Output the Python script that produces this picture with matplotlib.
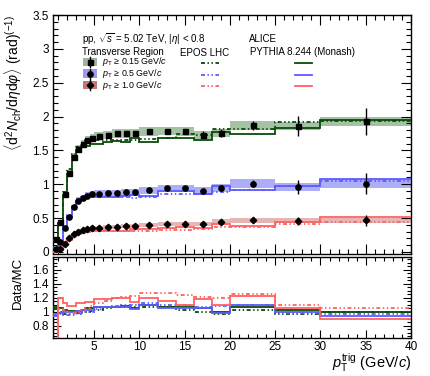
import numpy as np
import matplotlib
matplotlib.use("Agg")
import matplotlib.pyplot as plt
from matplotlib.patches import Rectangle
from matplotlib.lines import Line2D
from matplotlib.ticker import MultipleLocator

plt.rcParams['font.family'] = ['Liberation Sans', 'DejaVu Sans']
plt.rcParams['mathtext.fontset'] = 'custom'
plt.rcParams['mathtext.rm'] = 'Liberation Sans'
plt.rcParams['mathtext.it'] = 'Liberation Sans:italic'
plt.rcParams['mathtext.bf'] = 'Liberation Sans:bold'

# ---------------- data ----------------
edges = [0.5, 1, 1.5, 2, 2.5, 3, 3.5, 4, 4.5, 5, 6, 7, 8, 9, 10, 12, 14, 16, 18, 20, 25, 30, 40]
red_edges = edges[1:]

green_data = [0.19, 0.45, 0.86, 1.17, 1.41, 1.52, 1.60, 1.65, 1.68, 1.71, 1.73, 1.75, 1.75, 1.76,
              1.78, 1.79, 1.78, 1.73, 1.76, 1.87, 1.86, 1.93]
green_stat = [0.01, 0.01, 0.015, 0.015, 0.015, 0.015, 0.015, 0.015, 0.015, 0.015, 0.02, 0.02, 0.02,
              0.025, 0.025, 0.03, 0.04, 0.05, 0.06, 0.07, 0.15, 0.2]
green_pythia = [0.178, 0.429, 0.835, 1.158, 1.396, 1.505, 1.553, 1.571, 1.600, 1.598, 1.617, 1.636,
                1.620, 1.676, 1.618, 1.689, 1.679, 1.648, 1.778, 1.748, 1.824, 1.949]
green_epos = [0.184, 0.450, 0.887, 1.219, 1.454, 1.551, 1.616, 1.650, 1.663, 1.660, 1.648, 1.651,
              1.651, 1.660, 1.664, 1.689, 1.745, 1.730, 1.814, 1.816, 1.918, 1.930]

blue_data = [0.05, 0.15, 0.35, 0.52, 0.66, 0.76, 0.80, 0.83, 0.85, 0.86, 0.87, 0.87, 0.88, 0.88,
             0.91, 0.94, 0.94, 0.90, 0.95, 1.01, 0.96, 1.01]
blue_stat = [0.005, 0.008, 0.01, 0.01, 0.01, 0.01, 0.01, 0.01, 0.01, 0.012, 0.012, 0.015, 0.015,
             0.018, 0.02, 0.025, 0.03, 0.035, 0.045, 0.05, 0.11, 0.15]
blue_pythia = [0.053, 0.153, 0.350, 0.520, 0.660, 0.752, 0.784, 0.806, 0.825, 0.811, 0.813, 0.813,
               0.822, 0.846, 0.827, 0.895, 0.895, 0.857, 0.969, 0.918, 0.970, 1.074]
blue_epos = [0.052, 0.156, 0.368, 0.547, 0.688, 0.784, 0.816, 0.838, 0.850, 0.827, 0.821, 0.806,
             0.807, 0.800, 0.805, 0.855, 0.862, 0.849, 0.880, 0.918, 0.980, 1.052]

red_data = [0.05, 0.12, 0.20, 0.26, 0.30, 0.32, 0.34, 0.35, 0.36, 0.37, 0.37, 0.38, 0.38, 0.40,
            0.41, 0.41, 0.41, 0.45, 0.47, 0.46, 0.47]
red_stat = [0.005, 0.006, 0.007, 0.008, 0.008, 0.008, 0.008, 0.01, 0.01, 0.01, 0.012, 0.012, 0.015,
            0.015, 0.018, 0.02, 0.025, 0.03, 0.035, 0.06, 0.08]
red_pythia = [0.042, 0.107, 0.184, 0.239, 0.268, 0.286, 0.298, 0.307, 0.305, 0.314, 0.311, 0.317,
              0.336, 0.336, 0.357, 0.373, 0.347, 0.409, 0.385, 0.438, 0.522]
red_epos = [0.048, 0.118, 0.204, 0.265, 0.300, 0.311, 0.321, 0.324, 0.321, 0.322, 0.308, 0.314,
            0.309, 0.315, 0.323, 0.331, 0.339, 0.375, 0.376, 0.418, 0.448]

sys_frac = {'green': 0.035, 'blue': 0.06, 'red': 0.08}

labels = [r"$p_{\rm T}$ ≥ 0.15 GeV/$c$", r"$p_{\rm T}$ ≥ 0.5 GeV/$c$", r"$p_{\rm T}$ ≥ 1.0 GeV/$c$"]

# ---------------- style ----------------
line_col = {'green': '#0b4a0b', 'blue': '#5c5cff', 'red': '#ff6262'}
box_col = {'green': '#94b894', 'blue': '#a0a0f5', 'red': '#e2aaaa'}
legbox_col = {'green': '#9cb89c', 'blue': '#9a9af0', 'red': '#c07878'}
markers = {'green': 's', 'blue': 'o', 'red': 'D'}
msize = {'green': 3.6, 'blue': 3.8, 'red': 3.3}
epos_ls = (0, (2.2, 1.4, 0.8, 1.4, 0.8, 1.4))

W, H = 431, 376
fig = plt.figure(figsize=(W / 100, H / 100), dpi=100)
ax = fig.add_axes([53.5 / W, 1 - 254 / H, 357.5 / W, 239 / H])
axr = fig.add_axes([53.5 / W, 1 - 338.3 / H, 357.5 / W, 81.3 / H])

series = [
    ('green', edges, green_data, green_stat, green_pythia, green_epos),
    ('blue', edges, blue_data, blue_stat, blue_pythia, blue_epos),
    ('red', red_edges, red_data, red_stat, red_pythia, red_epos),
]

for name, ed, dat, st, py, ep in series:
    ed = np.array(ed, float)
    dat = np.array(dat, float)
    centers = 0.5 * (ed[:-1] + ed[1:])
    # systematic boxes
    for i in range(len(dat)):
        s = dat[i] * sys_frac[name]
        ax.add_patch(Rectangle((ed[i], dat[i] - s), ed[i + 1] - ed[i], 2 * s,
                               facecolor=box_col[name], edgecolor='none', alpha=0.85, zorder=1))
    # model histograms (prepend an empty bin for the red series so the step rises at x=1)
    if ed[0] > edges[0]:
        hed = np.concatenate([[edges[0]], ed])
        hpy = np.concatenate([[0.0], py])
        hep = np.concatenate([[0.0], ep])
        rpy = np.concatenate([[0.0], dat / np.array(py)])
        rep = np.concatenate([[0.0], dat / np.array(ep)])
    else:
        hed, hpy, hep = ed, np.array(py), np.array(ep)
        rpy, rep = dat / np.array(py), dat / np.array(ep)
    ax.stairs(hpy, hed, color=line_col[name], lw=1.3, baseline=None, zorder=3)
    ax.stairs(hep, hed, color=line_col[name], lw=1.3, ls=epos_ls, baseline=None, zorder=3)
    axr.stairs(rpy, hed, color=line_col[name], lw=1.3, baseline=None, zorder=3)
    axr.stairs(rep, hed, color=line_col[name], lw=1.3, ls=epos_ls, baseline=None, zorder=3)
    # data points
    ax.errorbar(centers, dat, yerr=st, fmt=markers[name], color='black', ms=msize[name],
                elinewidth=1.0, capsize=0, zorder=5)

# ---------------- axes formatting ----------------
for a in (ax, axr):
    a.set_xlim(0.5, 40)
    a.xaxis.set_major_locator(MultipleLocator(5))
    a.xaxis.set_minor_locator(MultipleLocator(1))
    a.tick_params(which='both', direction='in', top=True, right=True, labelsize=8.5, width=0.8)
    for sp in a.spines.values():
        sp.set_linewidth(1.0)

ax.set_ylim(-0.03, 3.5)
ax.yaxis.set_major_locator(MultipleLocator(0.5))
ax.yaxis.set_minor_locator(MultipleLocator(0.1))
ax.yaxis.set_major_formatter(matplotlib.ticker.FuncFormatter(lambda v, p: f"{v:g}"))
ax.tick_params(which='major', length=7)
ax.tick_params(which='minor', length=3.5)
ax.tick_params(axis='x', labelbottom=False)

axr.set_ylim(0.62, 1.78)
axr.yaxis.set_major_locator(MultipleLocator(0.2))
axr.yaxis.set_minor_locator(MultipleLocator(0.05))
axr.yaxis.set_major_formatter(matplotlib.ticker.FuncFormatter(lambda v, p: f"{v:g}"))
axr.tick_params(which='major', length=6)
axr.tick_params(which='minor', length=3)
axr.tick_params(axis='x', pad=2)

ax.set_ylabel(r"$\langle \mathrm{d}^{2}N_{\rm ch}/\mathrm{d}\eta \mathrm{d}\varphi\rangle$ (rad)$^{(-1)}$",
              fontsize=10, loc='top')
ax.yaxis.set_label_coords(-0.082, 1.0)
axr.set_ylabel("Data/MC", fontsize=9.5, loc='top')
axr.yaxis.set_label_coords(-0.082, 1.0)
axr.set_xlabel(r"$p_{\rm T}^{\rm trig}$ (GeV/$c$)", fontsize=10.5, loc='right')
axr.xaxis.set_label_coords(1.0, -0.17)

# ---------------- legend (drawn in figure pixels) ----------------
def fx(x):
    return x / W

def fy(y):
    return 1 - y / H

fig.text(fx(82), fy(39), r"pp, $\sqrt{s}$ = 5.02 TeV, |$\eta$| < 0.8", fontsize=7, va='center')
fig.text(fx(82), fy(52), "Transverse Region", fontsize=7, va='center')
fig.text(fx(180), fy(53), "EPOS LHC", fontsize=7, va='center')
fig.text(fx(249), fy(39), "ALICE", fontsize=7, va='center')
fig.text(fx(250), fy(52), "PYTHIA 8.244 (Monash)", fontsize=7, va='center')

rows = [62, 73.5, 85]
for (name, *_), yrow, lab in zip(series, rows, labels):
    fig.patches.append(Rectangle((fx(83), fy(yrow + 4)), 14 / W, 8 / H, transform=fig.transFigure,
                                 facecolor=legbox_col[name], edgecolor='none'))
    fig.lines.append(Line2D([fx(90)], [fy(yrow)], marker=markers[name], color='black',
                            ms=msize[name], transform=fig.transFigure))
    fig.lines.append(Line2D([fx(90), fx(90)], [fy(yrow - 5), fy(yrow + 5)], color='black',
                            lw=1.0, transform=fig.transFigure))
    fig.text(fx(102), fy(yrow), lab, fontsize=6.4, va='center')
    fig.lines.append(Line2D([fx(201), fx(219)], [fy(yrow + 1), fy(yrow + 1)], color=line_col[name],
                            lw=1.3, ls=epos_ls, transform=fig.transFigure))
    fig.lines.append(Line2D([fx(295), fx(312)], [fy(yrow + 1), fy(yrow + 1)], color=line_col[name],
                            lw=1.3, transform=fig.transFigure))

fig.savefig("out.png", dpi=100)
